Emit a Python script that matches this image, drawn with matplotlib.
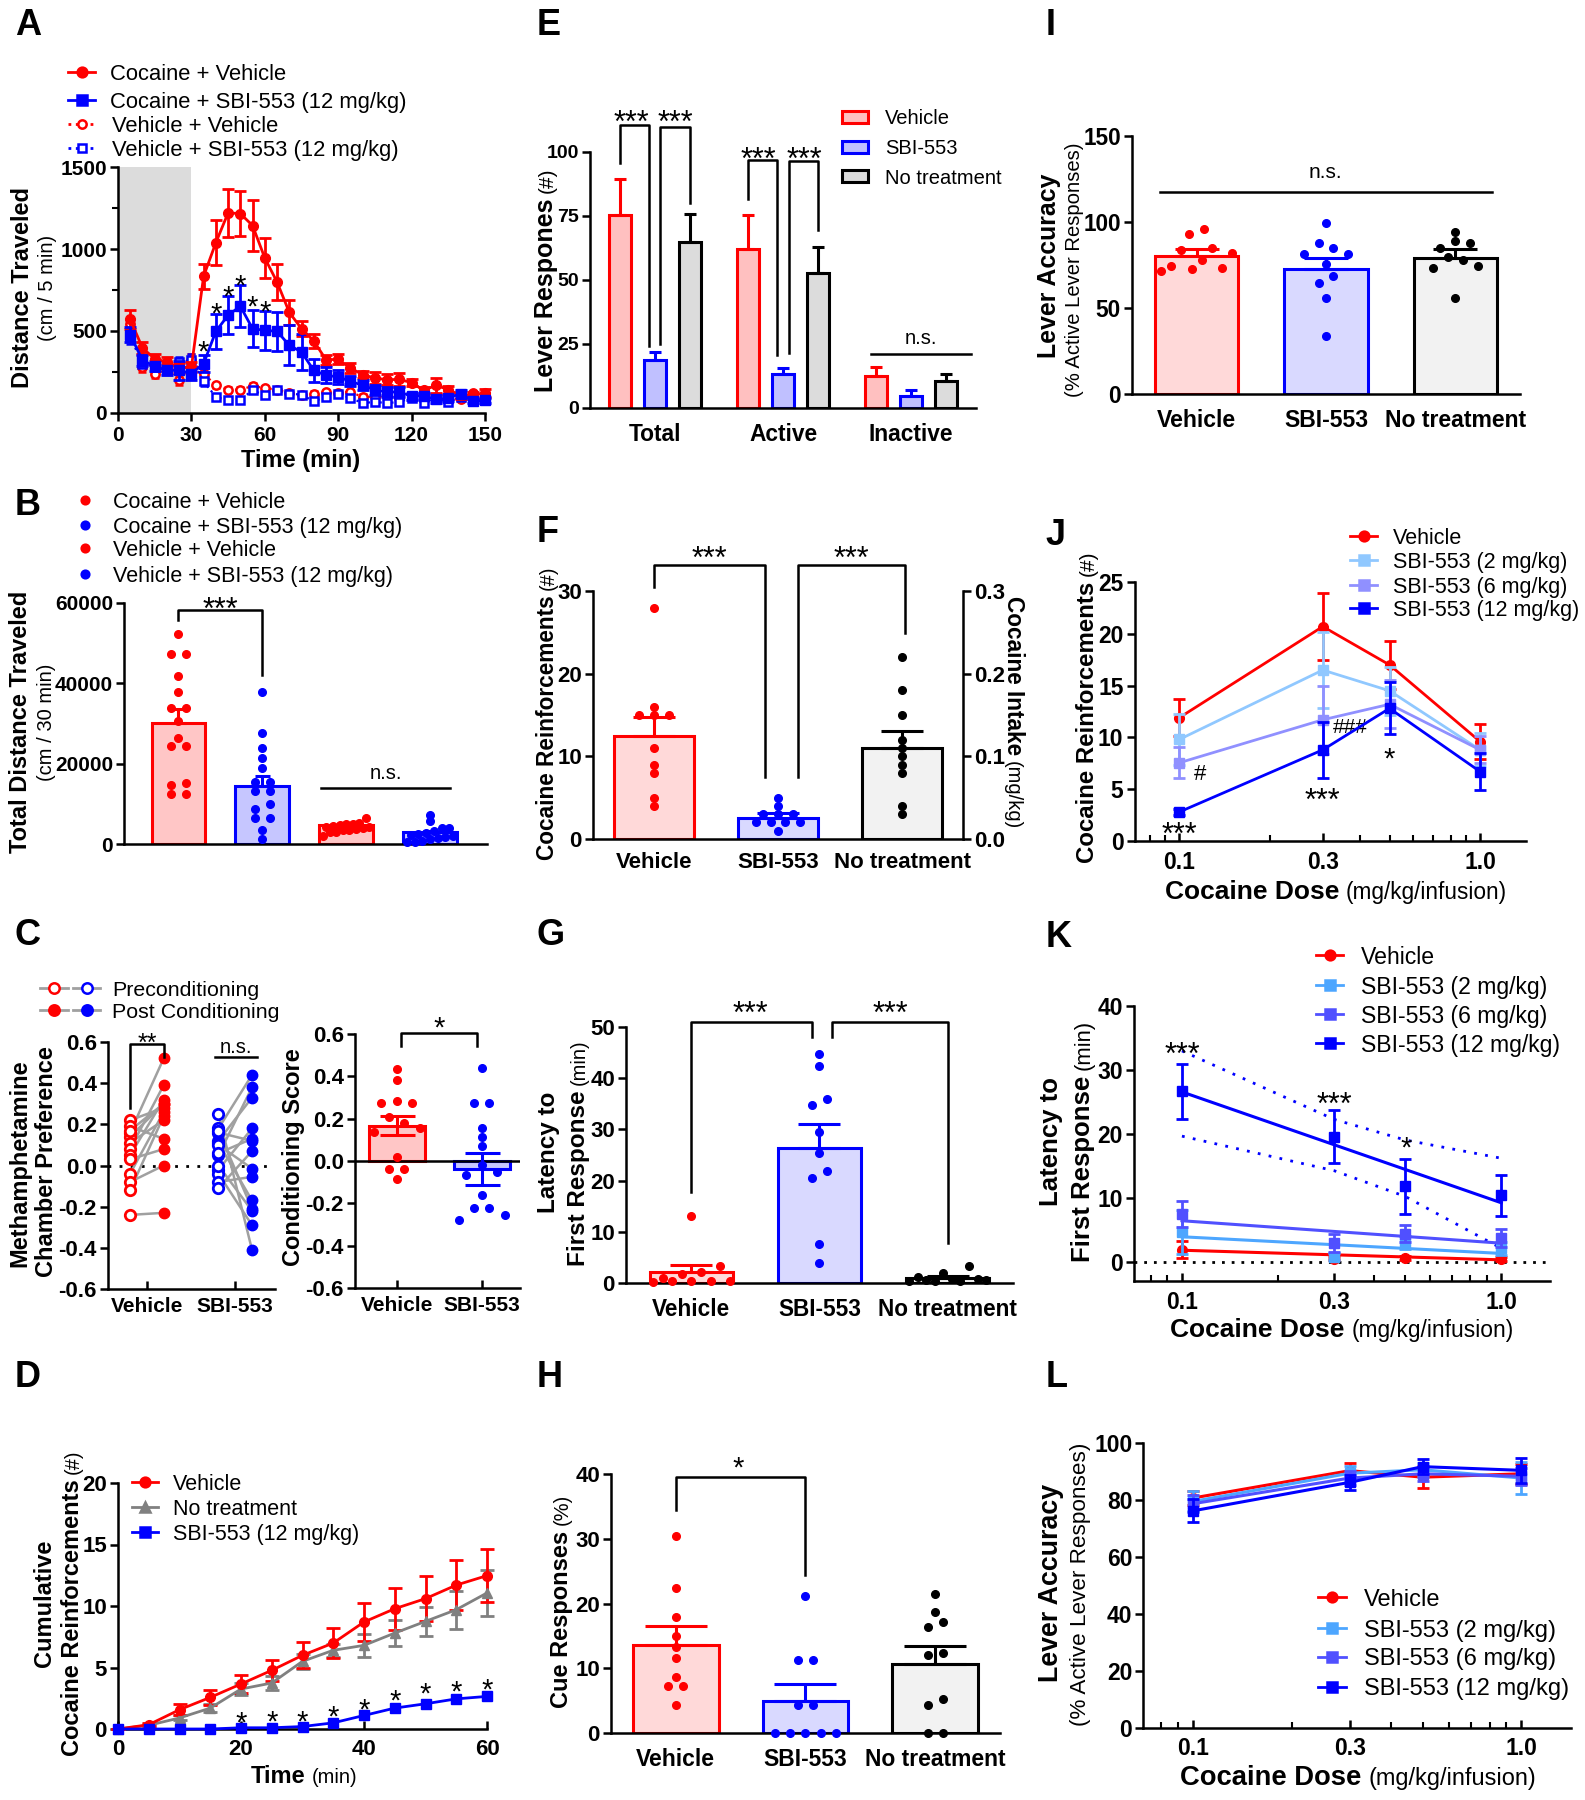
import numpy as np
import matplotlib
matplotlib.use('Agg')
import matplotlib.pyplot as plt
from matplotlib.lines import Line2D
from matplotlib.patches import Rectangle
from matplotlib.transforms import offset_copy
from matplotlib.ticker import FixedLocator, FixedFormatter, NullFormatter, FormatStrFormatter
from math import gcd

plt.rcParams['font.family'] = ['Liberation Sans', 'DejaVu Sans']
plt.rcParams['font.weight'] = 'bold'
plt.rcParams['axes.linewidth'] = 1.8
plt.rcParams['axes.unicode_minus'] = False

W, H = 1585, 1800

RED = '#ff0000'
BLUE = '#0000ff'
GRAY = '#808080'
PINK = '#ffd9d9'
LBLUE = '#d9d9ff'
LGRAY = '#f2f2f2'
J2 = '#90c8ff'
J6 = '#9090ff'
K2 = '#4da6ff'
K6 = '#5050ff'

STAR1 = 21
STAR3 = 22

# ---------------- A: distance traveled time course
a_time = [5, 10, 15, 20, 25, 30, 35, 40, 45, 50, 55, 60, 65, 70, 75,
          80, 85, 90, 95, 100, 105, 110, 115, 120, 125, 130, 135, 140, 145, 150]
a_coc_veh = [571, 396, 331, 311, 275, 280, 834, 1039, 1220, 1216, 1143, 945, 799, 614, 514,
             439, 325, 327, 274, 234, 213, 203, 205, 185, 138, 169, 142, 108, 108, 122]
a_coc_veh_sem = [60, 35, 30, 30, 30, 30, 77, 136, 148, 138, 154, 124, 112, 77, 47,
                 40, 30, 30, 30, 20, 35, 35, 40, 20, 20, 45, 25, 20, 20, 25]
a_coc_sbi = [478, 321, 285, 260, 260, 240, 301, 498, 596, 651, 514, 504, 498, 413, 372,
             260, 230, 220, 193, 169, 142, 128, 128, 102, 104, 83, 91, 118, 73, 77]
a_coc_sbi_sem = [45, 35, 30, 30, 60, 40, 51, 108, 116, 128, 112, 118, 118, 122, 112,
                 71, 50, 45, 30, 30, 30, 30, 30, 20, 20, 20, 20, 20, 15, 15]
a_veh_veh = [540, 281, 240, 260, 199, 321, 240, 169, 142, 142, 165, 152, 142, 122, 108,
             118, 128, 122, 128, 98, 98, 102, 94, 98, 77, 98, 87, 87, 122, 118]
a_veh_sbi = [463, 301, 281, 260, 311, 321, 193, 98, 77, 81, 138, 108, 138, 118, 112,
             71, 98, 118, 91, 61, 67, 61, 67, 94, 61, 87, 67, 98, 77, 77]
a_veh_sem = [40, 30, 25, 25, 30, 40, 30, 15, 15, 15, 15, 15, 15, 15, 15,
             15, 15, 15, 15, 15, 15, 15, 15, 15, 15, 15, 15, 15, 15, 15]
a_star_t = [35, 40, 45, 50, 55, 60]
a_star_y = [423, 657, 758, 829, 697, 667]
a_labels = ['Cocaine + Vehicle', 'Cocaine + SBI-553 (12 mg/kg)',
            'Vehicle + Vehicle', 'Vehicle + SBI-553 (12 mg/kg)']

# ---------------- B: total distance
b_mean = [30050, 14320, 4800, 2980]
b_sem = [3480, 2650, 500, 350]
b_pts = [
    [52200, 47300, 47300, 41900, 37900, 33900, 33900, 30500, 26300, 24500, 24500, 15100, 14600, 12400, 12400],
    [37750, 27700, 24000, 21400, 18900, 15400, 15400, 13100, 13100, 9900, 8700, 6500, 6500, 3500, 1200],
    [6500, 5300, 5000, 5000, 4800, 4500, 4300, 4200, 4000, 3800, 3600, 3400, 3000, 2900, 2000],
    [7300, 5800, 4000, 3900, 3200, 2800, 2500, 2300, 2000, 1800, 1500, 1200, 800, 600, 400],
]

# ---------------- C: CPP
c_veh_pre = [0.22, 0.19, 0.16, 0.14, 0.11, 0.08, 0.05, 0.03, -0.04, -0.08, -0.12, -0.24, 0.17]
c_veh_post = [0.28, 0.13, 0.52, 0.30, 0.22, 0.39, 0.32, 0.08, 0.26, 0.00, 0.24, -0.23, 0.30]
c_sbi_pre = [0.25, 0.18, 0.16, 0.12, 0.11, 0.05, -0.02, -0.04, -0.08, -0.11, 0.17, 0.10, 0.06, 0.00]
c_sbi_post = [-0.41, 0.44, 0.12, 0.33, -0.17, 0.38, 0.18, -0.29, -0.055, 0.07, -0.21, -0.015, 0.13, -0.22]
c_score_mean = [0.166, -0.039]
c_score_sem = [0.045, 0.076]
c_score_pts = [
    [0.435, 0.385, 0.285, 0.276, 0.276, 0.21, 0.18, 0.155, 0.135, 0.02, -0.04, -0.04, -0.085],
    [0.44, 0.276, 0.276, 0.158, 0.115, 0.072, -0.02, -0.05, -0.065, -0.16, -0.22, -0.22, -0.254, -0.28],
]
c_groups = ['Vehicle', 'SBI-553']

# ---------------- D: cumulative reinforcements
d_time = [0, 5, 10, 15, 20, 25, 30, 35, 40, 45, 50, 55, 60]
d_veh = [0, 0.35, 1.57, 2.57, 3.66, 4.77, 5.99, 6.99, 8.7, 9.78, 10.6, 11.7, 12.47]
d_veh_sem = [0, 0.1, 0.46, 0.63, 0.74, 0.87, 1.06, 1.2, 1.54, 1.72, 1.8, 2.0, 2.13]
d_nt = [0, 0.3, 0.9, 1.7, 3.25, 3.74, 5.5, 6.4, 6.8, 7.8, 8.75, 9.7, 11.06]
d_nt_sem = [0, 0.1, 0.2, 0.3, 0.49, 0.56, 0.6, 0.55, 0.95, 1.05, 1.15, 1.55, 1.9]
d_sbi = [0, 0, 0, 0, 0.1, 0.1, 0.2, 0.5, 1.1, 1.7, 2.05, 2.45, 2.65]
d_star_t = [20, 25, 30, 35, 40, 45, 50, 55, 60]
d_star_y = [1.17, 1.3, 1.3, 1.7, 2.25, 2.98, 3.5, 3.7, 3.9]

# ---------------- E: lever responses
e_groups = ['Total', 'Active', 'Inactive']
e_mean = {'Vehicle': [75.3, 62.0, 12.6], 'SBI-553': [18.6, 13.2, 4.5], 'No treatment': [64.7, 52.9, 10.6]}
e_sem = {'Vehicle': [14.1, 13.3, 3.4], 'SBI-553': [3.2, 2.6, 2.4], 'No treatment': [11.1, 10.1, 2.6]}

treat = ['Vehicle', 'SBI-553', 'No treatment']

# ---------------- F: reinforcements
f_mean = [12.4, 2.6, 11.0]
f_sem = [2.4, 0.5, 2.1]
f_pts = [[28, 16, 15, 15, 15, 11, 9, 8, 5, 4],
         [5, 4, 3, 3, 3, 2, 2, 2, 2, 1],
         [22, 18, 15, 12, 11, 10, 9, 8, 4, 3]]

# ---------------- G: latency
g_mean = [2.1, 26.4, 0.9]
g_sem = [1.5, 4.7, 0.4]
g_pts = [[13, 3.3, 2.2, 1.8, 0.9, 0.4, 0.4, 0.4, 0.3, 0.1],
         [44.7, 42.3, 35.9, 34.8, 29.4, 25.4, 21.8, 20.6, 7.6, 3.9],
         [3.3, 2.0, 1.1, 0.8, 0.7, 0.6, 0.5, 0.4, 0.3, 0.3]]

# ---------------- H: cue responses
h_mean = [13.6, 5.0, 10.6]
h_sem = [2.9, 2.6, 2.8]
h_pts = [[30.4, 22.4, 17.9, 15.0, 13.3, 11.6, 8.7, 7.3, 7.3, 4.4],
         [21.1, 11.2, 11.2, 4.3, 4.3, 0, 0, 0, 0, 0],
         [21.4, 18.7, 17.1, 16.4, 12.4, 12.1, 5.2, 4.4, 0, 0]]

# ---------------- I: lever accuracy
i_mean = [80.3, 72.6, 79.3]
i_sem = [3.9, 6.7, 4.9]
i_pts = [[96, 93, 85, 84, 82, 78, 74.7, 73.5, 72.6, 71.6],
         [99.7, 87.7, 84.8, 81.3, 81.3, 75.7, 68.7, 64.4, 55.7, 33.9],
         [93.9, 89.2, 87.7, 84.8, 79.9, 78, 74.7, 73.5, 55.7]]

# ---------------- J/K/L: dose response
doses = [0.1, 0.3, 0.5, 1.0]
dose_ticks = [0.1, 0.3, 1.0]
dose_labels = ['0.1', '0.3', '1.0']
dose_minor = [0.08, 0.09, 0.2, 0.4, 0.5, 0.6, 0.7, 0.8, 0.9]
series = ['Vehicle', 'SBI-553 (2 mg/kg)', 'SBI-553 (6 mg/kg)', 'SBI-553 (12 mg/kg)']

j_mean = [[11.9, 20.7, 17.0, 9.6], [9.8, 16.5, 14.5, 8.8], [7.55, 11.7, 13.2, 8.8], [2.8, 8.8, 12.8, 6.7]]
j_sem = [[1.8, 3.2, 2.3, 1.7], [2.5, 3.7, 2.3, 1.6], [1.5, 3.3, 2.3, 1.3], [0.3, 2.7, 2.5, 1.8]]

k_mean = [[2.0, 0.6, 0.7, 0.5], [4.7, 0.9, 3.1, 2.2], [7.55, 3.1, 4.5, 3.75], [26.7, 19.6, 11.9, 10.5]]
k_sem = [[1.3, 0.3, 0.3, 0.3], [3.4, 0.5, 1.0, 1.0], [2.0, 1.4, 1.3, 1.4], [4.3, 4.1, 4.3, 3.2]]
k_fit_x = [0.1, 1.0]
k_fit = [[1.9, 0.4], [4.0, 1.4], [6.5, 3.0], [26.6, 9.3]]
k_ci_hi = [33.0, 22.3, 19.1, 16.25]
k_ci_lo = [19.7, 14.3, 10.3, 2.2]

l_mean = [[80.7, 90.3, 88.0, 89.2], [79.5, 89.4, 90.6, 87.7], [78.7, 87.7, 89.2, 88.3], [76.2, 86.2, 91.7, 90.4]]
l_sem = [[2.5, 2.7, 3.9, 3.5], [3.5, 2.5, 2.5, 5.7], [3.0, 2.5, 2.5, 3.0], [4.0, 2.7, 2.6, 4.3]]

fig = plt.figure(figsize=(W / 100, H / 100), dpi=100)


def add_ax(l, t, r, b, tick=16):
    ax = fig.add_axes([l / W, 1 - b / H, (r - l) / W, (b - t) / H])
    ax.spines[['top', 'right']].set_visible(False)
    ax.tick_params(width=1.8, length=6, labelsize=tick)
    ax.tick_params(axis='y', pad=2)
    ax.tick_params(which='minor', width=1.5, length=4)
    ax.patch.set_alpha(0)
    return ax


def unclip(cont):
    for art in cont.get_children():
        art.set_clip_on(False)


def swarm(vals, thr, step, maxw=0.55):
    # points with close values are laid side by side in a row
    vals = np.asarray(vals, dtype=float)
    order = np.argsort(vals, kind='stable')
    offs = np.zeros(len(vals))
    groups, cur = [], [order[0]]
    for i in order[1:]:
        if vals[i] - vals[cur[-1]] < thr:
            cur.append(i)
        else:
            groups.append(cur)
            cur = [i]
    groups.append(cur)
    for g in groups:
        n = len(g)
        st = min(step, maxw / max(n - 1, 1))
        m = 2
        while gcd(m, n) != 1:
            m += 1
        for k, i in enumerate(g):
            slot = (k * m) % n if n > 2 else k
            offs[i] = (slot - (n - 1) / 2) * st
    return offs


def dots(ax, x0, vals, color, thr, step, maxw=0.55, ms=5.5):
    offs = swarm(vals, thr, step, maxw)
    ax.plot(x0 + offs, vals, 'o', color=color, ms=ms, ls='none', zorder=5, clip_on=False)


def bars(ax, means, sems, fills, edges, width, cap, both=False):
    x = np.arange(len(means))
    ax.bar(x, means, width=width, color=fills, edgecolor=edges, linewidth=2.2, zorder=2)
    for xi, m, s, c in zip(x, means, sems, edges):
        lo = s if both else 0
        ax.errorbar(xi, m, yerr=[[lo], [s]], fmt='none', ecolor=c, elinewidth=2.2,
                    capsize=cap, capthick=2.2, zorder=4)
    return x


def bracket(ax, x1, x2, top, b1, b2):
    ax.plot([x1, x1, x2, x2], [b1, top, top, b2], color='black', lw=1.8, clip_on=False, zorder=6)


def star(ax, x, y, s, size=STAR1):
    tr = offset_copy(ax.transData, fig=fig, y=-0.585 * size / 72, units='inches')
    ax.text(x, y, s, transform=tr, ha='center', va='baseline', fontsize=size,
            fontweight='normal', clip_on=False, zorder=7)


def ns(ax, x1, x2, y, ty, size=14.5):
    ax.plot([x1, x2], [y, y], color='black', lw=1.8, clip_on=False)
    ax.text((x1 + x2) / 2, ty, 'n.s.', ha='center', va='center', fontsize=size, fontweight='normal')


def panel(x, y, s):
    fig.text(x / W, 1 - y / H, s, fontsize=26, fontweight='bold', ha='left', va='baseline')


def rich(x, y, parts, rot=0):
    # a label made of pieces with their own size and weight, centred on (x, y)
    r = fig.canvas.get_renderer()
    widths = []
    for s, size, weight in parts:
        t = fig.text(0, 0, s, fontsize=size, fontweight=weight)
        widths.append(t.get_window_extent(r).width)
        t.remove()
    gaps = [0] + [0.28 * p[1] * 100 / 72 for p in parts[1:]]
    total = sum(widths) + sum(gaps)
    pos = -total / 2
    for (s, size, weight), w, g in zip(parts, widths, gaps):
        pos += g
        if rot == 0:
            xx, yy = x + pos, y
        elif rot == 90:
            xx, yy = x, y - pos
        else:
            xx, yy = x, y + pos
        fig.text(xx / W, 1 - yy / H, s, fontsize=size, fontweight=weight, rotation=rot,
                 rotation_mode='anchor', ha='left', va='baseline')
        pos += w


def leg(x1, x2, y, tx, text, color, marker=None, ls='-', mfc=None, ms=7, lw=2, size=15.5):
    yy = 1 - y / H
    if lw > 0:
        fig.add_artist(Line2D([x1 / W, x2 / W], [yy, yy], transform=fig.transFigure,
                              color=color, lw=lw, ls=ls))
    if marker:
        fig.add_artist(Line2D([(x1 + x2) / 2 / W], [yy], transform=fig.transFigure, marker=marker,
                              ms=ms, color=color, mfc=mfc or color, mec=color, mew=1.8, ls='none'))
    if text:
        fig.text(tx / W, yy, text, fontsize=size, fontweight='normal', ha='left', va='center_baseline')


def leg_box(x, y, text, fill, edge, size=14.5):
    fig.add_artist(Rectangle((x / W, 1 - (y + 6) / H), 26 / W, 12 / H, transform=fig.transFigure,
                             facecolor=fill, edgecolor=edge, lw=2.2))
    fig.text((x + 43) / W, 1 - y / H, text, fontsize=size, fontweight='normal',
             ha='left', va='center_baseline')


def logx(ax, pad):
    ax.set_xscale('log')
    ax.xaxis.set_major_locator(FixedLocator(dose_ticks))
    ax.xaxis.set_major_formatter(FixedFormatter(dose_labels))
    ax.xaxis.set_minor_locator(FixedLocator(dose_minor))
    ax.xaxis.set_minor_formatter(NullFormatter())
    ax.tick_params(axis='x', which='both', direction='in', pad=pad)


# ======================= A
axA = add_ax(118, 167, 485, 413, tick=15)
axA.axvspan(0, 30, color='#dcdcdc', lw=0, zorder=0)
for vals, c, m in [(a_veh_veh, RED, 'o'), (a_veh_sbi, BLUE, 's')]:
    eb = axA.errorbar(a_time, vals, yerr=a_veh_sem, color=c, marker=m, mfc='white', mec=c, mew=1.8,
                      ms=6, ls=':', lw=1.6, elinewidth=1.5, capsize=3, capthick=1.5, zorder=3)
    unclip(eb)
for vals, sem, c, m in [(a_coc_veh, a_coc_veh_sem, RED, 'o'), (a_coc_sbi, a_coc_sbi_sem, BLUE, 's')]:
    eb = axA.errorbar(a_time, vals, yerr=sem, color=c, marker=m, ms=7, lw=2, elinewidth=2,
                      capsize=4, capthick=2, zorder=4)
    unclip(eb)
for t, y in zip(a_star_t, a_star_y):
    star(axA, t, y, '*')
axA.set_xlim(0, 150)
axA.set_ylim(0, 1500)
axA.set_xticks([0, 30, 60, 90, 120, 150])
axA.set_yticks([0, 500, 1000, 1500])
axA.set_yticks([250, 750, 1250], minor=True)
panel(15, 35, 'A')
rich(29, 288, [('Distance Traveled', 17, 'bold')], rot=90)
rich(53, 288, [('(cm / 5 min)', 14.5, 'normal')], rot=90)
rich(301, 467, [('Time (min)', 17, 'bold')])
leg(68, 95, 72, 110, a_labels[0], RED, 'o', size=15.8)
leg(68, 95, 100, 110, a_labels[1], BLUE, 's', size=15.8)
leg(68, 95, 124, 112, a_labels[2], RED, 'o', ls=':', mfc='white', ms=6, size=15.8)
leg(68, 95, 148, 112, a_labels[3], BLUE, 's', ls=':', mfc='white', ms=6, size=15.8)

# ======================= B
axB = add_ax(124, 603, 487, 844, tick=15)
bfill = ['#ffc6c6', '#c6c6ff', '#ffc6c6', '#c6c6ff']
bedge = [RED, BLUE, RED, BLUE]
xb = bars(axB, b_mean, b_sem, bfill, bedge, 0.64, 5.4)
for xi, pts, c in zip(xb, b_pts, bedge):
    dots(axB, xi, pts, c, 1500, 0.18, 0.55)
bracket(axB, 0, 1, 58360, 55700, 42050)
star(axB, 0.5, 60600, '***', size=STAR3)
ns(axB, 1.70, 3.24, 13900, 17630)
axB.set_xlim(-0.65, 3.68)
axB.set_ylim(0, 60000)
axB.set_xticks([])
axB.set_yticks([0, 20000, 40000, 60000])
panel(15, 515, 'B')
rich(27, 722, [('Total Distance Traveled', 17, 'bold')], rot=90)
rich(52, 722, [('(cm / 30 min)', 14.5, 'normal')], rot=90)
for y, lab, c in zip([500, 525, 548, 574], a_labels, bedge):
    leg(85, 85, y, 113, lab, c, 'o', lw=0, ms=5.5, size=15.5)

# ======================= C left
axC1 = add_ax(108, 1042, 275, 1289)
for k, (pre, post, c) in enumerate([(c_veh_pre, c_veh_post, RED), (c_sbi_pre, c_sbi_post, BLUE)]):
    for a, b in zip(pre, post):
        axC1.plot([k - 0.19, k + 0.19], [a, b], color='#a0a0a0', lw=1.8, zorder=2)
    axC1.plot(np.full(len(pre), k - 0.19), pre, 'o', mfc='white', mec=c, mew=2, ms=7.5, ls='none', zorder=3)
    axC1.plot(np.full(len(post), k + 0.19), post, 'o', color=c, ms=7.5, ls='none', zorder=3)
axC1.axhline(0, color='black', ls=(0, (1, 3)), lw=2, zorder=1)
bracket(axC1, -0.19, 0.19, 0.59, 0.277, 0.527)
star(axC1, 0, 0.63, '**', size=18)
ns(axC1, 0.77, 1.25, 0.527, 0.575)
axC1.set_xlim(-0.44, 1.45)
axC1.set_ylim(-0.6, 0.6)
axC1.set_yticks([-0.6, -0.4, -0.2, 0.0, 0.2, 0.4, 0.6])
axC1.yaxis.set_major_formatter(FormatStrFormatter('%.1f'))
axC1.set_xticks([0, 1], c_groups)
axC1.tick_params(axis='x', direction='in', labelsize=15, pad=6)
panel(15, 945, 'C')
rich(26, 1163, [('Methamphetamine', 17, 'bold')], rot=90)
rich(53, 1162, [('Chamber Preference', 17, 'bold')], rot=90)
for y, lab, face in [(988, 'Preconditioning', 'white'), (1010, 'Post Conditioning', None)]:
    leg(40, 68, y, None, None, '#a0a0a0')
    leg(73, 100, y, None, None, '#a0a0a0')
    leg(54, 54, y, None, None, RED, 'o', mfc=face, lw=0, ms=7.5)
    leg(87, 87, y, None, None, BLUE, 'o', mfc=face, lw=0, ms=7.5)
    fig.text(112 / W, 1 - y / H, lab, fontsize=15.4, fontweight='normal', va='center_baseline')

# ======================= C right
axC2 = add_ax(355, 1034, 520, 1288)
xc = bars(axC2, c_score_mean, c_score_sem, ['#ffc6c6', '#c6c6ff'], [RED, BLUE], 0.66, 12.6, both=True)
for xi, pts, c in zip(xc, c_score_pts, [RED, BLUE]):
    dots(axC2, xi, pts, c, 0.036, 0.18, 0.55)
axC2.axhline(0, color='black', lw=1.8, zorder=3)
bracket(axC2, 0.05, 0.95, 0.603, 0.543, 0.543)
star(axC2, 0.5, 0.67, '*')
axC2.set_xlim(-0.49, 1.45)
axC2.set_ylim(-0.6, 0.6)
axC2.set_yticks([-0.6, -0.4, -0.2, 0.0, 0.2, 0.4, 0.6])
axC2.yaxis.set_major_formatter(FormatStrFormatter('%.1f'))
axC2.set_xticks([0, 1], c_groups)
axC2.tick_params(axis='x', direction='in', labelsize=15, pad=6)
rich(300, 1157, [('Conditioning Score', 17, 'bold')], rot=90)

# ======================= D
axD = add_ax(118, 1483, 487, 1729)
for vals, sem, c, m in [(d_nt, d_nt_sem, GRAY, '^'), (d_veh, d_veh_sem, RED, 'o')]:
    eb = axD.errorbar(d_time, vals, yerr=sem, color=c, marker=m, ms=7, lw=2, elinewidth=2,
                      capsize=5, capthick=2, zorder=3)
    unclip(eb)
axD.plot(d_time, d_sbi, color=BLUE, marker='s', ms=7, lw=2, zorder=4, clip_on=False)
for t, y in zip(d_star_t, d_star_y):
    star(axD, t, y, '*')
axD.set_xlim(0, 60)
axD.set_ylim(0, 20)
axD.set_xticks([0, 20, 40, 60])
axD.set_yticks([0, 5, 10, 15, 20])
axD.tick_params(axis='x', direction='in', pad=7)
panel(15, 1387, 'D')
rich(51, 1603, [('Cumulative', 17, 'bold')], rot=90)
rich(79, 1603, [('Cocaine Reinforcements', 17, 'bold'), ('(#)', 14.5, 'normal')], rot=90)
rich(304, 1783, [('Time', 17, 'bold'), ('(min)', 14.5, 'normal')])
leg(132, 158, 1482, 173, 'Vehicle', RED, 'o')
leg(132, 158, 1507, 173, 'No treatment', GRAY, '^')
leg(132, 158, 1532, 173, 'SBI-553 (12 mg/kg)', BLUE, 's')

# ======================= E
axE = add_ax(590, 152, 976, 408, tick=14)
efill = ['#ffc0c0', '#c0c0ff', '#dcdcdc']
eedge = [RED, BLUE, 'black']
eoff = [-0.273, 0, 0.273]
gx = np.arange(len(e_groups))
for k, tr in enumerate(treat):
    axE.bar(gx + eoff[k], e_mean[tr], width=0.17, color=efill[k], edgecolor=eedge[k], linewidth=2.2, zorder=2)
    axE.errorbar(gx + eoff[k], e_mean[tr], yerr=[np.zeros(3), e_sem[tr]], fmt='none', ecolor=eedge[k],
                 elinewidth=2.2, capsize=4.3, capthick=2.2, zorder=3)
bracket(axE, -0.273, -0.05, 110.4, 95.8, 24.4)
bracket(axE, 0.04, 0.273, 109.7, 25, 79.9)
star(axE, -0.19, 115, '***', size=STAR3)
star(axE, 0.16, 115, '***', size=STAR3)
bracket(axE, 1 - 0.273, 1 - 0.05, 97, 81.8, 20.8)
bracket(axE, 1.05, 1.273, 96.5, 21.4, 69.5)
star(axE, 0.805, 100.5, '***', size=STAR3)
star(axE, 1.17, 100.5, '***', size=STAR3)
ns(axE, 1.69, 2.47, 21, 27)
axE.set_xlim(-0.51, 2.51)
axE.set_ylim(0, 100)
axE.set_yticks([0, 25, 50, 75, 100])
axE.set_xticks(gx, e_groups)
axE.tick_params(axis='x', length=0, labelsize=16.4, pad=11)
panel(537, 35, 'E')
rich(553, 280, [('Lever Respones', 18, 'bold'), ('(#)', 15, 'normal')], rot=90)
for y, tr, f, e in zip([117, 147, 176], treat, efill, eedge):
    leg_box(842, y, tr, f, e)

# ======================= F
axF = add_ax(593, 591, 963, 839)
fedge = [RED, BLUE, 'black']
ffill = [PINK, LBLUE, LGRAY]
xf = bars(axF, f_mean, f_sem, ffill, fedge, 0.645, 15)
for xi, pts, c in zip(xf, f_pts, fedge):
    dots(axF, xi, pts, c, 0.9, 0.12, 0.55)
bracket(axF, 0, 0.895, 33.1, 30.5, 7.5)
bracket(axF, 1.16, 2.02, 33.1, 7.5, 24.9)
star(axF, 0.45, 34.9, '***', size=STAR3)
star(axF, 1.59, 34.9, '***', size=STAR3)
axF.set_xlim(-0.49, 2.49)
axF.set_ylim(0, 30)
axF.set_yticks([0, 10, 20, 30])
axF.set_xticks(xf, treat)
axF.tick_params(axis='x', length=0, labelsize=16, pad=9)
axF2 = axF.twinx()
axF2.spines[['top', 'left', 'bottom']].set_visible(False)
axF2.set_ylim(0, 0.3)
axF2.set_yticks([0, 0.1, 0.2, 0.3])
axF2.yaxis.set_major_formatter(FormatStrFormatter('%.1f'))
axF2.tick_params(width=1.8, length=6, labelsize=16, pad=2)
panel(537, 542, 'F')
rich(554, 713, [('Cocaine Reinforcements', 16.3, 'bold'), ('(#)', 14.5, 'normal')], rot=90)
rich(1007, 713, [('Cocaine Intake', 16.3, 'bold'), ('(mg/kg)', 14.5, 'normal')], rot=-90)

# ======================= G
axG = add_ax(626, 1027, 1013, 1283)
xg = bars(axG, g_mean, g_sem, ffill, fedge, 0.65, 15)
for xi, pts, c in zip(xg, g_pts, fedge):
    dots(axG, xi, pts, c, 1.5, 0.117, 0.6)
bracket(axG, 0, 0.94, 50.9, 17.7, 48)
bracket(axG, 1.10, 2.0, 50.9, 48, 7.9)
star(axG, 0.46, 54.2, '***', size=STAR3)
star(axG, 1.55, 54.2, '***', size=STAR3)
axG.set_xlim(-0.51, 2.51)
axG.set_ylim(0, 50)
axG.set_yticks([0, 10, 20, 30, 40, 50])
axG.set_xticks(xg, treat)
axG.tick_params(axis='x', length=0, labelsize=16.3, pad=10.5)
panel(537, 945, 'G')
rich(555, 1152, [('Latency to', 17.5, 'bold')], rot=90)
rich(585, 1153, [('First Response', 17.5, 'bold'), ('(min)', 14.5, 'normal')], rot=90)

# ======================= H
axH = add_ax(611, 1474, 1000, 1733)
xh = bars(axH, h_mean, h_sem, ffill, fedge, 0.66, 22.5)
for xi, pts, c in zip(xh, h_pts, fedge):
    dots(axH, xi, pts, c, 1.2, 0.116, 0.6)
bracket(axH, 0, 1.0, 39.6, 34.4, 24.4)
star(axH, 0.48, 42.2, '*')
axH.set_xlim(-0.5, 2.5)
axH.set_ylim(0, 40)
axH.set_yticks([0, 10, 20, 30, 40])
axH.set_xticks(xh, treat)
axH.tick_params(axis='x', length=0, labelsize=16.5, pad=10.5)
panel(537, 1387, 'H')
rich(568, 1601, [('Cue Responses', 17, 'bold'), ('(%)', 14.5, 'normal')], rot=90)

# ======================= I
axI = add_ax(1132, 136, 1520, 394, tick=16.3)
xi_ = bars(axI, i_mean, i_sem, ffill, fedge, 0.643, 15.5)
for xi, pts, c in zip(xi_, i_pts, fedge):
    dots(axI, xi, pts, c, 4.5, 0.115, 0.55)
ns(axI, -0.285, 2.28, 117.3, 129, size=15)
axI.set_xlim(-0.5, 2.5)
axI.set_ylim(0, 150)
axI.set_yticks([0, 50, 100, 150])
axI.set_xticks(xi_, treat)
axI.tick_params(axis='x', length=0, labelsize=16.6, pad=11)
panel(1046, 35, 'I')
rich(1056, 266, [('Lever Accuracy', 17.9, 'bold')], rot=90)
rich(1080, 270, [('(% Active Lever Responses)', 14.6, 'normal')], rot=90)

# ======================= J
axJ = add_ax(1134.5, 582, 1525.7, 841, tick=16.5)
jcols = [RED, J2, J6, BLUE]
jmark = ['o', 's', 's', 's']
for k in [1, 2, 3, 0]:
    eb = axJ.errorbar(doses, j_mean[k], yerr=j_sem[k], color=jcols[k], marker=jmark[k], ms=7, lw=2,
                      elinewidth=2, capsize=4, capthick=2, zorder=3 + k)
    unclip(eb)
star(axJ, 0.1, 1.4, '***', size=STAR3)
star(axJ, 0.3, 4.75, '***', size=STAR3)
star(axJ, 0.5, 8.7, '*')
axJ.text(0.112, 6.4, '#', ha='left', va='center', fontsize=16, fontweight='normal')
axJ.text(0.37, 11.0, '###', ha='center', va='center', fontsize=15, fontweight='normal')
logx(axJ, 7)
axJ.set_xlim(0.0710, 1.418)
axJ.set_ylim(0, 25)
axJ.set_yticks([0, 5, 10, 15, 20, 25])
panel(1046, 545, 'J')
rich(1094, 707, [('Cocaine Reinforcements', 17.3, 'bold'), ('(#)', 15, 'normal')], rot=90)
rich(1336, 899, [('Cocaine Dose', 19, 'bold'), ('(mg/kg/infusion)', 16.3, 'normal')])
for y, lab, c, m in zip([536, 560, 585, 608], series, jcols, jmark):
    leg(1350, 1377, y, 1393, lab, c, m, size=15.5)

# ======================= K
axK = add_ax(1133.8, 1006, 1549.8, 1281, tick=16.5)
kcols = [RED, K2, K6, BLUE]
axK.axhline(0, color='black', ls=(0, (1, 2.5)), lw=2, zorder=1)
axK.plot(doses, k_ci_hi, color=BLUE, ls=(0, (1, 3)), lw=2, zorder=2)
axK.plot(doses, k_ci_lo, color=BLUE, ls=(0, (1, 3)), lw=2, zorder=2)
for k in range(4):
    axK.plot(k_fit_x, k_fit[k], color=kcols[k], lw=2.2, zorder=3 + k)
    eb = axK.errorbar(doses, k_mean[k], yerr=k_sem[k], fmt=jmark[k], color=kcols[k], ms=7,
                      elinewidth=2, capsize=4, capthick=2, zorder=3 + k)
    unclip(eb)
star(axK, 0.1, 33.7, '***', size=STAR3)
star(axK, 0.3, 25.9, '***', size=STAR3)
star(axK, 0.505, 19.2, '*')
logx(axK, 7)
axK.set_xlim(0.07067, 1.419)
axK.set_ylim(-2.9, 40)
axK.set_yticks([0, 10, 20, 30, 40])
panel(1046, 947, 'K')
rich(1058, 1141, [('Latency to', 18.5, 'bold')], rot=90)
rich(1090, 1141, [('First Response', 18.5, 'bold'), ('(min)', 15.8, 'normal')], rot=90)
rich(1342, 1337, [('Cocaine Dose', 19, 'bold'), ('(mg/kg/infusion)', 16.4, 'normal')])
for y, lab, c, m in zip([955, 985, 1014, 1043], series, kcols, jmark):
    leg(1316, 1343, y, 1361, lab, c, m, size=16.6)

# ======================= L
axL = add_ax(1143.4, 1443, 1571.3, 1728, tick=16.5)
for k in [1, 2, 3, 0]:
    eb = axL.errorbar(doses, l_mean[k], yerr=l_sem[k], color=kcols[k], marker=jmark[k], ms=7, lw=2.2,
                      elinewidth=2, capsize=4, capthick=2, zorder=3 + k)
    unclip(eb)
logx(axL, 6.5)
axL.set_xlim(0.0706, 1.419)
axL.set_ylim(0, 100)
axL.set_yticks([0, 20, 40, 60, 80, 100])
panel(1046, 1387, 'L')
rich(1058, 1583, [('Lever Accuracy', 19.3, 'bold')], rot=90)
rich(1086, 1584, [('(% Active Lever Responses)', 16.2, 'normal')], rot=90)
rich(1358, 1785, [('Cocaine Dose', 19.7, 'bold'), ('(mg/kg/infusion)', 16.9, 'normal')])
for y, lab, c, m in zip([1597, 1628, 1657, 1687], series, kcols, jmark):
    leg(1318, 1346, y, 1364, lab, c, m, size=17)

fig.savefig('out.png', dpi=100)
